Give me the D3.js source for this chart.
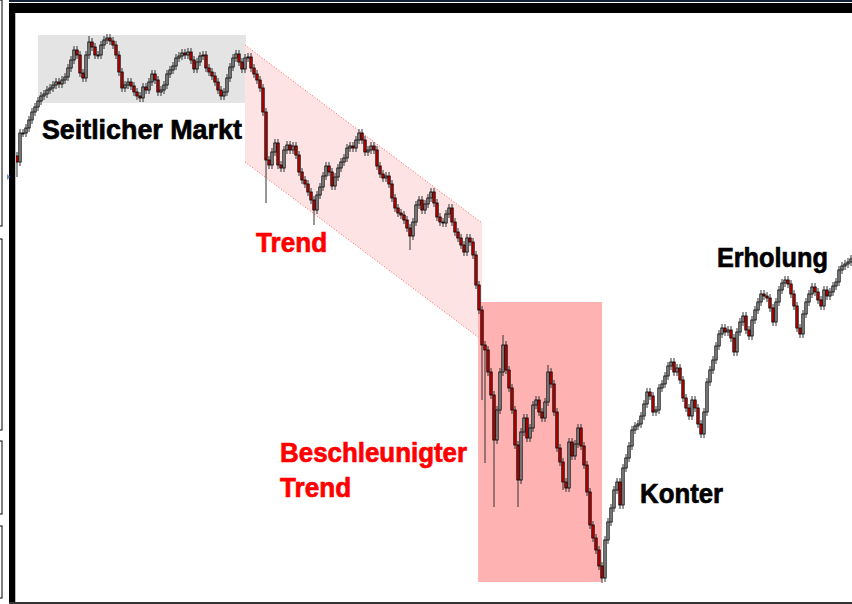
<!DOCTYPE html>
<html lang="de">
<head>
<meta charset="utf-8">
<title>Marktphasen</title>
<script src="https://cdn.jsdelivr.net/npm/d3@7/dist/d3.min.js"></script>
<style>
  body { margin: 0; background: #fff; }
  svg { display: block; }
</style>
</head>
<body>
<script>
// closing prices, one bar every period
const closes = [
  440,469,469,474,482,490,495,501,506,508,
  512,514,517,520,518,522,525,534,542,552,
  547,529,524,547,560,555,547,547,557,562,
  564,561,557,547,530,514,517,520,516,510,
  506,504,515,512,520,528,522,510,512,517,
  528,532,536,544,546,549,547,550,542,533,
  540,546,547,534,530,526,520,512,506,510,
  524,535,544,548,540,533,544,545,534,528,
  522,514,490,442,
  437,450,459,437,434,452,457,452,456,447,
  430,422,418,410,402,392,407,415,426,436,
  430,416,425,434,440,444,454,456,454,462,
  469,462,450,452,456,452,436,428,424,426,
  418,404,394,389,387,382,374,366,380,397,
  402,392,398,404,410,399,385,380,379,388,
  394,380,370,364,357,350,364,360,347,317,
  292,
  257,252,230,207,162,192,230,257,232,214,
  192,157,122,170,184,164,174,197,202,190,
  184,200,230,218,190,154,140,120,114,160,
  146,158,174,156,137,110,77,64,52,36,
  24,
  62,80,94,112,120,97,134,144,156,172,
  176,178,186,198,210,206,190,192,214,218,
  226,236,240,230,234,222,204,194,186,202,
  194,178,168,190,220,232,242,256,268,274,
  270,272,264,250,270,280,286,272,266,282,
  292,300,308,306,304,294,280,300,312,319,
  322,318,308,296,274,268,288,300,308,315,
  310,302,296,312,306,310,316,320,332,336,
  338,340,343
];
// long wicks (bar index -> price)
const spikeLows = {0: 425, 83: 399, 99: 377, 131: 352, 155: 202, 156: 139, 159: 95, 167: 95, 195: 19, 182: 112};
const spikeHighs = {162: 267, 177: 237, 24: 566, 30: 568};

// highlighted phases
const sideways = {from: 7, to: 76.3, top: 567, bottom: 499};
const channelPts = [[76, 557], [155, 379], [155, 262], [76, 440]];
const accel = {from: 153.7, to: 195, top: 300, bottom: 20};

const labels = [
  {text: "Seitlicher Markt", i: 8.3, p: 463, w: 200, color: "#000"},
  {text: "Trend", i: 79.7, p: 350, w: 71, color: "#ff0000"},
  {text: "Beschleunigter", i: 87.7, p: 140, w: 187, color: "#ff0000"},
  {text: "Trend", i: 87.7, p: 105, w: 71, color: "#ff0000"},
  {text: "Konter", i: 207.7, p: 99, w: 83, color: "#000"},
  {text: "Erholung", i: 233.3, p: 335, w: 111, color: "#000"}
];

const W = 852, H = 604;
const svg = d3.select("body").append("svg").attr("width", W).attr("height", H);

// window tabs on the far left
[[0, 226], [239, 430], [441, 514], [526, 598]].forEach(function(r) {
  svg.append("rect").attr("x", -4).attr("y", r[0]).attr("width", 6).attr("height", r[1] - r[0])
    .attr("fill", "#fff").attr("stroke", "#000").attr("stroke-width", 1);
});

const x = d3.scaleLinear().domain([0, closes.length - 1]).range([17, 851]);
const y = d3.scaleLinear().domain([0, 590]).range([602, 12]);

const plot = svg.append("g");
plot.append("defs").append("clipPath").attr("id", "clip")
  .append("rect").attr("x", 15).attr("y", 13).attr("width", W - 15).attr("height", 589);
const g = plot.append("g").attr("clip-path", "url(#clip)");

// sideways box
g.append("rect")
  .attr("x", x(sideways.from)).attr("y", y(sideways.top))
  .attr("width", x(sideways.to) - x(sideways.from))
  .attr("height", y(sideways.bottom) - y(sideways.top))
  .attr("fill", "#e4e4e4");

// trend channel
g.append("polygon")
  .attr("points", channelPts.map(function(d) { return x(d[0]) + "," + y(d[1]); }).join(" "))
  .attr("fill", "#fde3e3");
[[channelPts[0], channelPts[1]], [channelPts[3], channelPts[2]]].forEach(function(s) {
  g.append("line")
    .attr("x1", x(s[0][0])).attr("y1", y(s[0][1]))
    .attr("x2", x(s[1][0])).attr("y2", y(s[1][1]))
    .attr("stroke", "#ff6060").attr("stroke-width", 1).attr("stroke-dasharray", "1,2");
});

// accelerated trend box
g.append("rect")
  .attr("x", x(accel.from)).attr("y", y(accel.top))
  .attr("width", x(accel.to) - x(accel.from))
  .attr("height", y(accel.bottom) - y(accel.top))
  .attr("fill", "#ffb2b2");

// candles
const bars = closes.map(function(c, i) {
  const o = i === 0 ? c + 6 : closes[i - 1];
  const hi = spikeHighs[i] !== undefined ? spikeHighs[i] : Math.max(o, c) + 4;
  const lo = spikeLows[i] !== undefined ? spikeLows[i] : Math.min(o, c) - 4;
  return {i: i, o: o, c: c, h: hi, l: lo};
});

g.selectAll("line.wick").data(bars).enter().append("line")
  .attr("class", "wick")
  .attr("x1", function(d) { return x(d.i); }).attr("x2", function(d) { return x(d.i); })
  .attr("y1", function(d) { return y(d.h); }).attr("y2", function(d) { return y(d.l); })
  .attr("stroke", "#333").attr("stroke-width", 1);

g.selectAll("rect.body").data(bars).enter().append("rect")
  .attr("class", "body")
  .attr("x", function(d) { return x(d.i) - 1.2; })
  .attr("width", 2.4)
  .attr("y", function(d) { return y(Math.max(d.o, d.c)); })
  .attr("height", function(d) { return Math.max(1, Math.abs(y(d.o) - y(d.c))); })
  .attr("fill", function(d) { return d.c >= d.o ? "#8f8f8f" : "#cc0000"; })
  .attr("stroke", "#000").attr("stroke-width", 0.8);

// phase labels
svg.selectAll("text.lbl").data(labels).enter().append("text")
  .attr("class", "lbl")
  .attr("x", function(d) { return x(d.i); })
  .attr("y", function(d) { return y(d.p); })
  .attr("textLength", function(d) { return d.w; })
  .attr("lengthAdjust", "spacingAndGlyphs")
  .attr("font-family", "'Liberation Sans', Arial, sans-serif")
  .attr("font-weight", "bold")
  .attr("font-size", 28)
  .attr("fill", function(d) { return d.color; })
  .attr("stroke", function(d) { return d.color; })
  .attr("stroke-width", 0.7)
  .text(function(d) { return d.text; });

// window frame
svg.append("rect").attr("x", 9).attr("y", 0).attr("width", W - 9).attr("height", 2).attr("fill", "#142036");
svg.append("rect").attr("x", 9).attr("y", 3).attr("width", W - 9).attr("height", 10).attr("fill", "#000");
svg.append("rect").attr("x", 9).attr("y", 3).attr("width", 6).attr("height", H - 3).attr("fill", "#000");
svg.append("rect").attr("x", 15).attr("y", 13).attr("width", 1).attr("height", H - 13).attr("fill", "#bbb");
svg.append("rect").attr("x", 9).attr("y", H - 2).attr("width", W - 9).attr("height", 2).attr("fill", "#333");
svg.append("path").attr("d", "M7,174 L10,177 L7,180 Z").attr("fill", "#6a8fc8");
</script>
</body>
</html>
